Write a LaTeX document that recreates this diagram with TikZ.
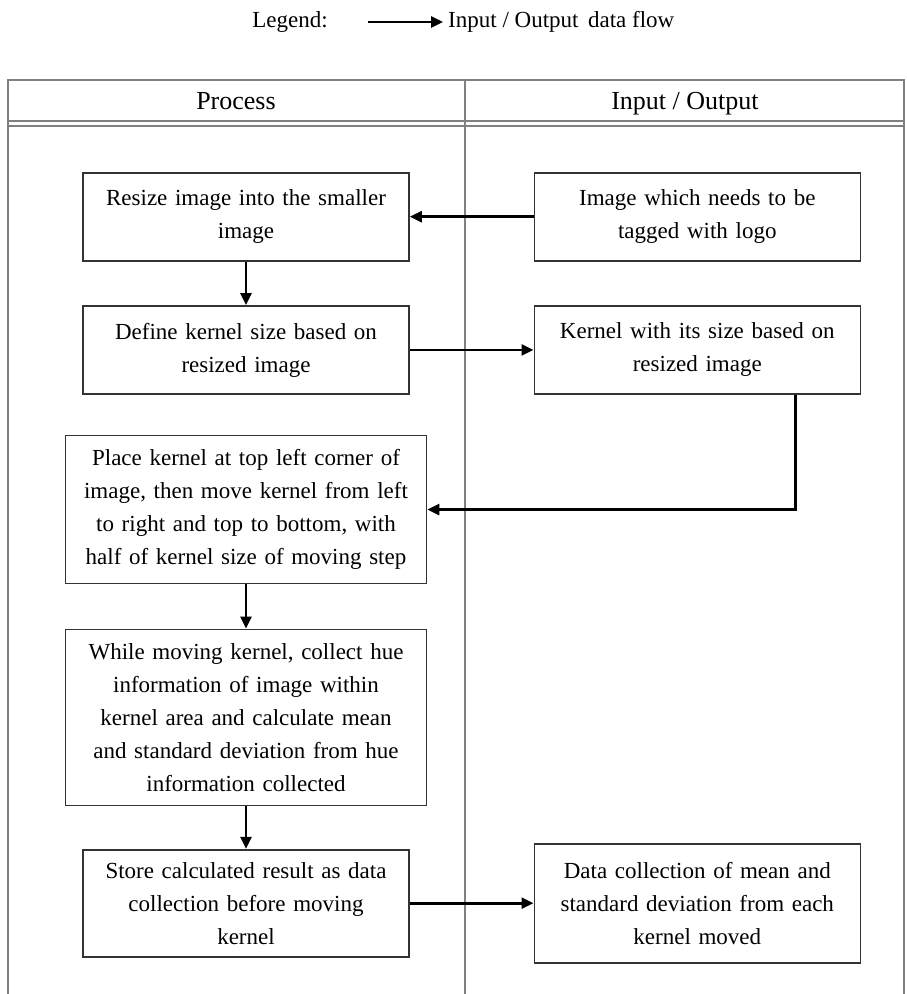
\documentclass[tikz,border=0pt]{standalone}
\usepackage{fontspec}
\setmainfont{Liberation Serif}
\usepackage{tikz}
\usetikzlibrary{arrows.meta,positioning}
\newcommand{\boxfont}{\fontsize{23}{33}\selectfont}
\newcommand{\headfont}{\fontsize{26}{30}\selectfont}
\tikzset{
  pbox/.style={rectangle, draw=black!80, line width=1.6pt, fill=white,
               text width=#1, align=center,
               inner xsep=10pt, inner ysep=6pt, font=\boxfont},
  pbox/.default=306pt,
  farr/.style={-{Stealth[length=12pt, width=11pt, inset=0pt]}, line width=2.6pt, black},
  tline/.style={draw=black!50, line width=1.1pt}
}
\begin{document}
\begin{tikzpicture}[x=1pt, y=-1pt]
\useasboundingbox (0,0) rectangle (907,994);
% legend
\node[font=\boxfont] (legend) at (290,22) {Legend:};
\coordinate (lgstart) at (368,22);
\node[font=\boxfont, anchor=west, inner sep=5pt] (lgtext) at (443,22) {Input / Output\, data flow};
\draw[farr] (lgstart) -- (lgtext.west);
% table frame
\draw[tline] (8,994) -- (8,80) -- (904,80) -- (904,994);
\draw[tline] (465,80) -- (465,994);
\draw[tline] (8,121) -- (904,121);
\draw[tline] (8,126) -- (904,126);
\node[font=\headfont, anchor=base] (hproc) at (236,109) {Process};
\node[font=\headfont, anchor=base] (hio) at (685,109) {Input / Output};
% process column
\node[pbox, minimum height=88pt] at (246,216.7)
  (resize) {Resize image into the smaller\\image};
\node[pbox, minimum height=88pt, below=43.6pt of resize]
  (define) {Define kernel size based on\\resized image};
\node[pbox=341pt, minimum height=148pt, below=40pt of define]
  (place) {Place kernel at top left corner of\\image, then move kernel from left\\to right and top to bottom, with\\half of kernel size of moving step};
\node[pbox=341pt, minimum height=176pt, below=44.3pt of place]
  (collect) {While moving kernel, collect hue\\information of image within\\kernel area and calculate mean\\and standard deviation from hue\\information collected};
\node[pbox, minimum height=107pt, below=42.7pt of collect]
  (store) {Store calculated result as data\\collection before moving\\kernel};
% input / output column
\node[pbox, minimum height=88pt, right=123.7pt of resize]
  (inimg) {Image which needs to be\\tagged with logo};
\node[pbox, minimum height=88pt, right=123.7pt of define]
  (kern) {Kernel with its size based on\\resized image};
\node[pbox, minimum height=119pt, right=123.7pt of store]
  (datacol) {Data collection of mean and\\standard deviation from each\\kernel moved};
% flows
\draw[farr] (inimg.west) -- (resize.east);
\draw[farr] (resize) -- (define);
\draw[farr] (define.east) -- (kern.west);
\draw[farr] ([xshift=98pt]kern.south) |- (place.east);
\draw[farr] (place) -- (collect);
\draw[farr] (collect) -- (store);
\draw[farr] (store.east) -- (store.east -| datacol.west);
\end{tikzpicture}
\end{document}
